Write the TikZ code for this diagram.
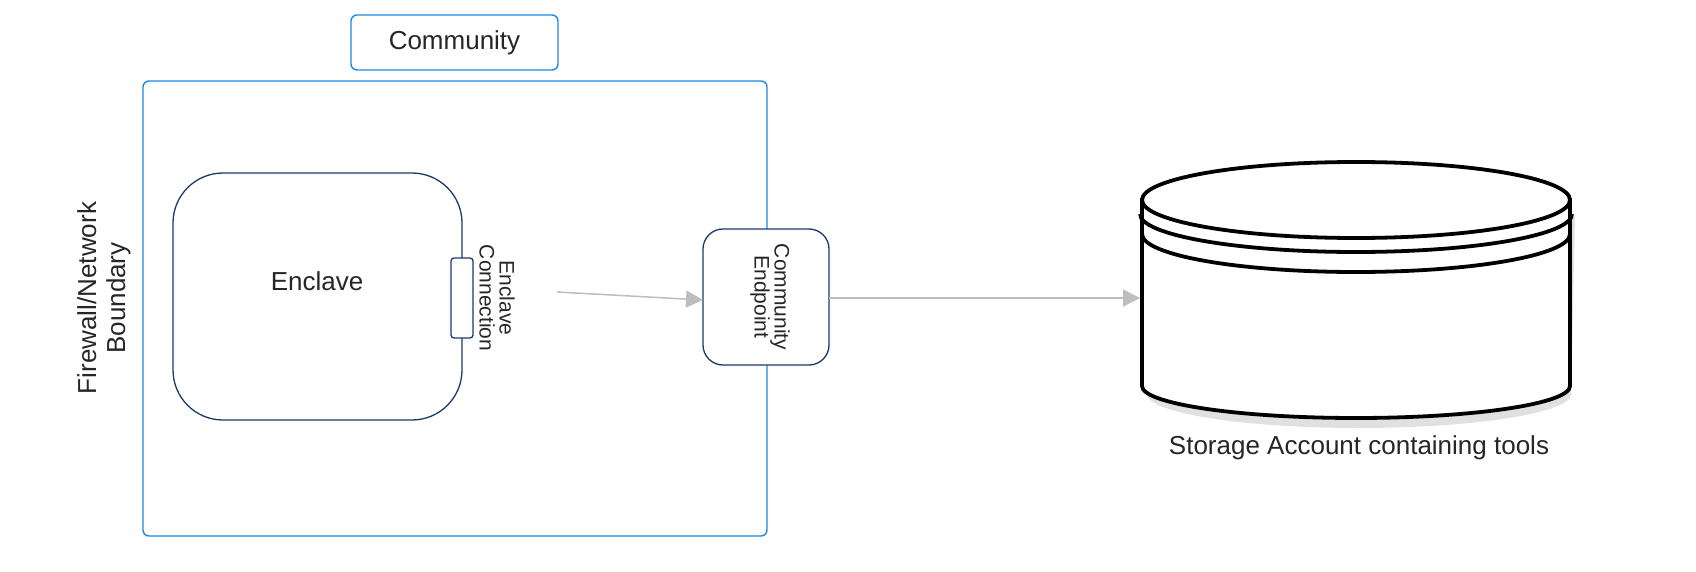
\documentclass[tikz,border=0pt]{standalone}
\usepackage{fontspec}
\setmainfont{Liberation Sans}
\usetikzlibrary{arrows.meta}
\definecolor{bblue}{HTML}{1E88E5}
\definecolor{dnavy}{HTML}{1B3A6B}
\definecolor{agray}{HTML}{BDBDBD}
\begin{document}
\begin{tikzpicture}[x=1pt,y=-1pt,
  blue box/.style={draw=bblue,line width=1.4pt,rounded corners=6pt},
  navy box/.style={draw=dnavy,line width=1.3pt,fill=white},
  conn/.style={draw=agray,line width=1.5pt,-{Triangle[length=17pt,width=17pt]}},
  lbl/.style={font=\fontsize{26}{29}\selectfont,text=black!85},
  small/.style={font=\fontsize{21}{20}\selectfont,text=black!85,align=center}]
\useasboundingbox (0,0) rectangle (1696,572);
\node[blue box,minimum width=207pt,minimum height=55pt,lbl] (community) at (454.5,42.5) {Community};
\draw[blue box] (143,81) rectangle (767,536);
\node[lbl,rotate=90,align=center] (fw) at (104,298) {Firewall/Network\\Boundary};
\draw[navy box,rounded corners=50pt] (173,173) rectangle (462,420);
\node[lbl] (enclave) at (317,281) {Enclave};
\draw[navy box,rounded corners=3pt] (451,258) rectangle (473,338);
\node[small,rotate=-90] (ec) at (497,298) {Enclave\\Connection};
\draw[navy box,rounded corners=20pt] (703,229) rectangle (829,365);
\node[small,rotate=-90] (ep) at (770,297) {Community\\Endpoint};
\coordinate (a1) at (557,292);
\coordinate (a2) at (703,300);
\coordinate (b1) at (829,298);
\coordinate (b2) at (1140,298);
\draw[conn] (a1) -- (a2);
\draw[conn] (b1) -- (b2);
% cylinder
\begin{scope}[line width=3.8pt,draw=black]
\fill[black!12] (1147,215) -- (1147,394) arc[start angle=180,end angle=0,x radius=212,y radius=34] -- (1575,215) -- cycle;
\draw[fill=white] (1142,200) -- (1142,386) arc[start angle=180,end angle=0,x radius=214,y radius=32] -- (1570,200) -- cycle;
\draw (1140,214) arc[start angle=180,end angle=0,x radius=216,y radius=38];
\draw (1142,234) arc[start angle=180,end angle=0,x radius=214,y radius=38];
\draw[fill=white] (1356,200) ellipse[x radius=214,y radius=38];
\end{scope}
\node[lbl] (storage) at (1359,448) {Storage Account containing tools};
\end{tikzpicture}
\end{document}
